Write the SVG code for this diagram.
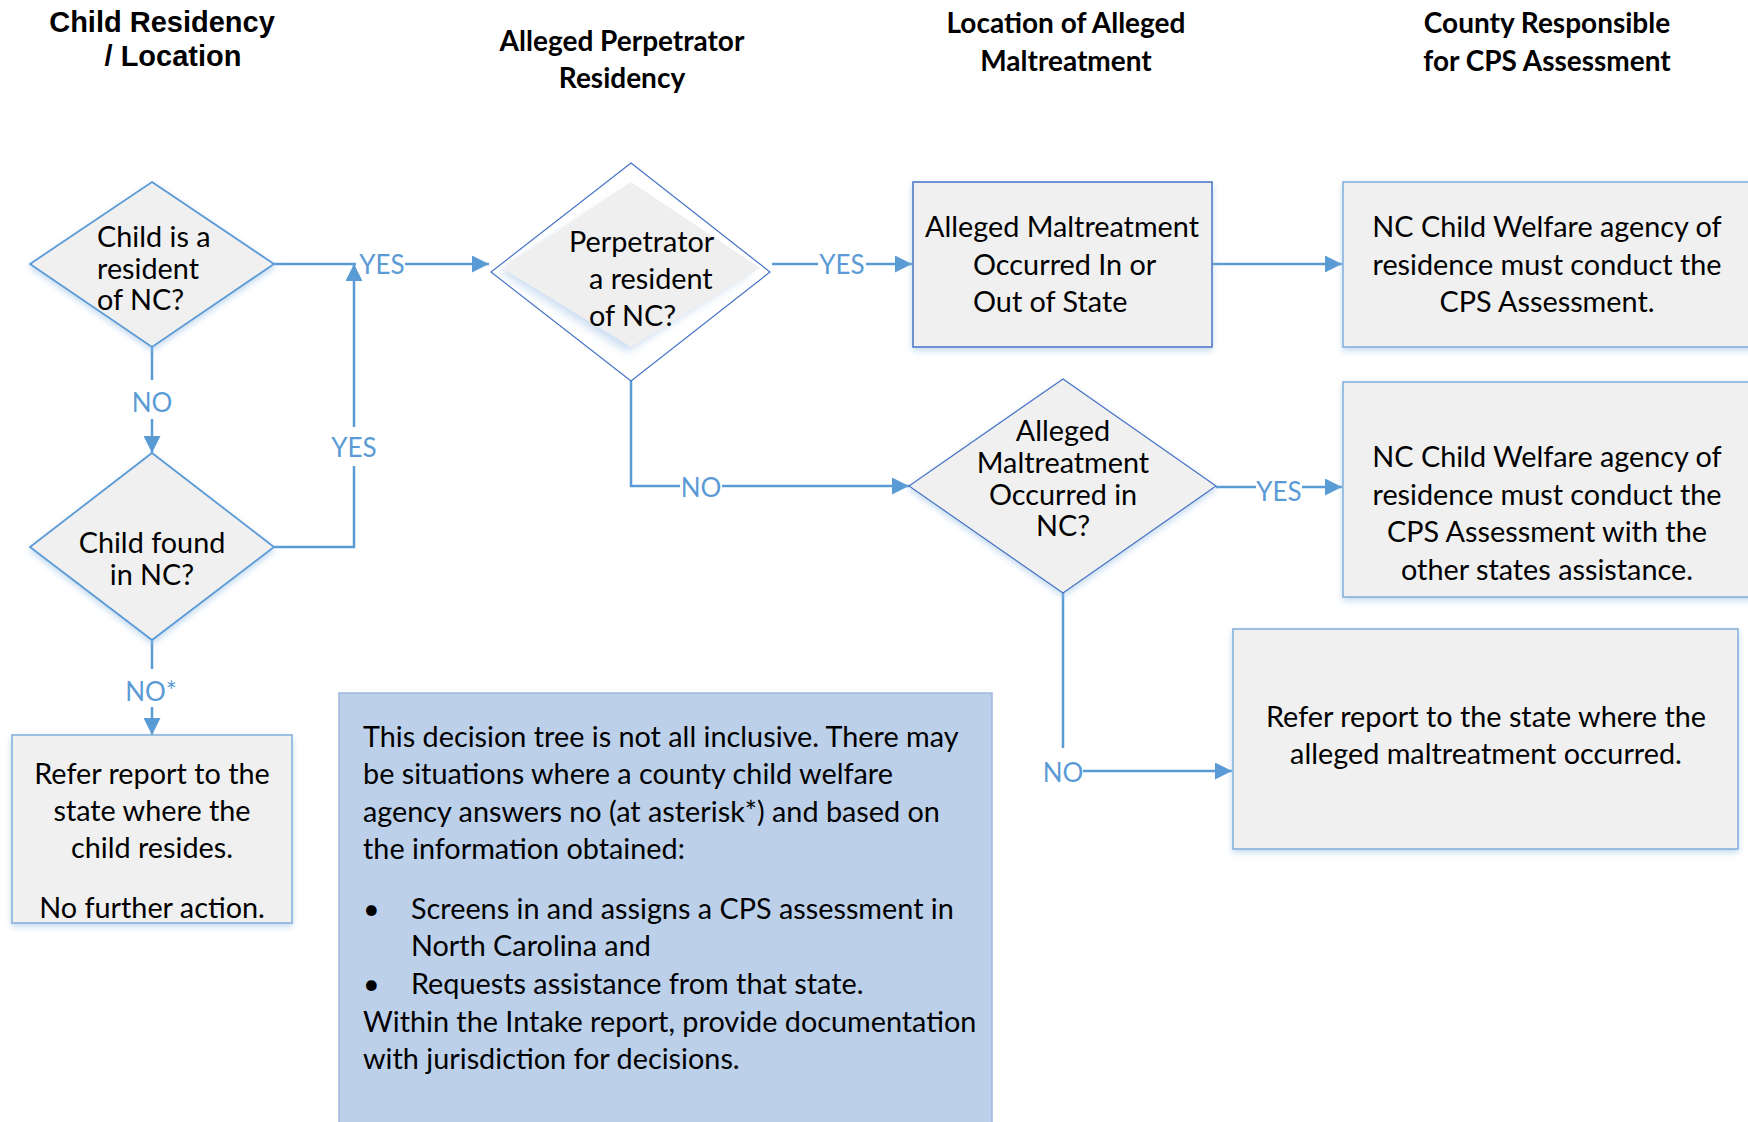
<svg xmlns="http://www.w3.org/2000/svg" width="1748" height="1122" viewBox="0 0 1748 1122">
<defs>
<style>
.hdr{font-family:"Lato","Liberation Sans",sans-serif;font-weight:bold;font-size:28px;fill:#000;text-anchor:middle}
.hdr1{font-family:"Liberation Sans","Arial",sans-serif;font-weight:bold;font-size:29px;fill:#000;text-anchor:middle}
.t{font-family:"Lato","Liberation Sans",sans-serif;font-size:28.8px;fill:#000}
.c{text-anchor:middle}
.lbl{font-family:"Lato","Liberation Sans",sans-serif;font-size:26px;fill:#5B9BD5;text-anchor:middle}
.ln{fill:none;stroke:#5B9BD5;stroke-width:2.5}
.box{fill:#F0F0F0;stroke:#7FAEDC;stroke-width:1.5}
.dia{fill:#F0F0F0;stroke:#5B9BD5;stroke-width:1.8}
.dia2{fill:#F0F0F0;stroke:#4472C4;stroke-width:1.2}
</style>
<marker id="arr" viewBox="0 0 10 10" refX="10" refY="5" markerWidth="18" markerHeight="17" markerUnits="userSpaceOnUse" orient="auto">
<path d="M0,0 L10,5 L0,10 z" fill="#5B9BD5"/>
</marker>
<filter id="sh" x="-10%" y="-10%" width="120%" height="130%">
<feDropShadow dx="0" dy="3" stdDeviation="3" flood-color="#9DC3E6" flood-opacity="0.6"/>
</filter>
<filter id="blur" x="-20%" y="-20%" width="140%" height="140%">
<feGaussianBlur stdDeviation="4"/>
</filter>
</defs>
<rect width="1748" height="1122" fill="#FFFFFF"/>

<g id="headers">
<text class="hdr1" x="162" y="32">Child Residency</text>
<text class="hdr1" x="173" y="66">/ Location</text>
<text class="hdr" x="622" y="51">Alleged Perpetrator</text>
<text class="hdr" x="622" y="88">Residency</text>
<text class="hdr" x="1066" y="33">Location of Alleged</text>
<text class="hdr" x="1066" y="71">Maltreatment</text>
<text class="hdr" x="1547" y="33">County Responsible</text>
<text class="hdr" x="1547" y="71">for CPS Assessment</text>
</g>

<g id="connectors">
<path class="ln" d="M274,264 H356"/>
<path class="ln" d="M405,264 H489" marker-end="url(#arr)"/>
<path class="ln" d="M274,547 H354 V466"/>
<path class="ln" d="M354,427 V264" marker-end="url(#arr)"/>
<path class="ln" d="M152,347 V380"/>
<path class="ln" d="M152,419 V453" marker-end="url(#arr)"/>
<path class="ln" d="M152,640 V669"/>
<path class="ln" d="M152,707 V735" marker-end="url(#arr)"/>
<path class="ln" d="M772,264 H818"/>
<path class="ln" d="M866,264 H912" marker-end="url(#arr)"/>
<path class="ln" d="M1212,264 H1342" marker-end="url(#arr)"/>
<path class="ln" d="M631,347 V486 H680"/>
<path class="ln" d="M722,486 H909" marker-end="url(#arr)"/>
<path class="ln" d="M1216,487 H1256"/>
<path class="ln" d="M1302,487 H1342" marker-end="url(#arr)"/>
<path class="ln" d="M1063,593 V748"/>
<path class="ln" d="M1083,771 H1232" marker-end="url(#arr)"/>
<text class="lbl" x="382" y="274">YES</text>
<text class="lbl" x="354" y="457">YES</text>
<text class="lbl" x="152" y="412">NO</text>
<text class="lbl" x="151" y="701">NO*</text>
<text class="lbl" x="842" y="274">YES</text>
<text class="lbl" x="701" y="497">NO</text>
<text class="lbl" x="1279" y="501">YES</text>
<text class="lbl" x="1063" y="782">NO</text>
</g>

<g id="child-resident">
<polygon class="dia" filter="url(#sh)" points="152,182 274,264 152,347 30,264"/>
<text class="t" x="97" y="247">Child is a</text>
<text class="t" x="97" y="279">resident</text>
<text class="t" x="97" y="310">of NC?</text>
</g>

<g id="child-found">
<polygon class="dia" filter="url(#sh)" points="152,453 274,547 152,640 30,547"/>
<text class="t c" x="152" y="553">Child found</text>
<text class="t c" x="152" y="585">in NC?</text>
</g>

<g id="refer-child">
<rect class="box" filter="url(#sh)" x="12" y="735" width="280" height="188"/>
<text class="t c" x="152" y="784">Refer report to the</text>
<text class="t c" x="152" y="821">state where the</text>
<text class="t c" x="152" y="858">child resides.</text>
<text class="t c" x="152" y="918">No further action.</text>
</g>

<g id="perpetrator">
<polygon points="631,163 770,272 631,381 491,272" fill="#FFFFFF" stroke="#4472C4" stroke-width="1.2"/>
<polygon points="627,190 752,272 627,352 500,272" fill="#B8D0EC" opacity="0.7" filter="url(#blur)"/>
<polygon points="631,182 760,268 631,347 502,268" fill="#EFEFEF"/>
<text class="t" x="569" y="252">Perpetrator</text>
<text class="t" x="589" y="289">a resident</text>
<text class="t" x="589" y="326">of NC?</text>
</g>

<g id="in-out-state">
<rect x="913" y="182" width="299" height="165" fill="#F0F0F0" stroke="#4472C4" stroke-width="1.5" filter="url(#sh)"/>
<text class="t c" x="1062" y="237">Alleged Maltreatment</text>
<text class="t" x="973" y="275">Occurred In or</text>
<text class="t" x="973" y="312">Out of State</text>
</g>

<g id="nc-agency">
<rect class="box" filter="url(#sh)" x="1343" y="182" width="420" height="165"/>
<text class="t c" x="1547" y="237">NC Child Welfare agency of</text>
<text class="t c" x="1547" y="275">residence must conduct the</text>
<text class="t c" x="1547" y="312">CPS Assessment.</text>
</g>

<g id="occurred-nc">
<polygon class="dia2" filter="url(#sh)" points="1063,379 1216,486 1063,593 909,486"/>
<text class="t c" x="1063" y="441">Alleged</text>
<text class="t c" x="1063" y="473">Maltreatment</text>
<text class="t c" x="1063" y="505">Occurred in</text>
<text class="t c" x="1063" y="536">NC?</text>
</g>

<g id="nc-agency-assist">
<rect class="box" filter="url(#sh)" x="1343" y="382" width="420" height="215"/>
<text class="t c" x="1547" y="467">NC Child Welfare agency of</text>
<text class="t c" x="1547" y="505">residence must conduct the</text>
<text class="t c" x="1547" y="542">CPS Assessment with the</text>
<text class="t c" x="1547" y="580">other states assistance.</text>
</g>

<g id="refer-state">
<rect class="box" filter="url(#sh)" x="1233" y="629" width="505" height="220"/>
<text class="t c" x="1486" y="727">Refer report to the state where the</text>
<text class="t c" x="1486" y="764">alleged maltreatment occurred.</text>
</g>

<g id="note">
<rect x="339" y="693" width="653" height="440" fill="#BCD0EA" stroke="#9DB8E0" stroke-width="1.5"/>
<text class="t" x="363" y="747">This decision tree is not all inclusive. There may</text>
<text class="t" x="363" y="784">be situations where a county child welfare</text>
<text class="t" x="363" y="822">agency answers no (at asterisk*) and based on</text>
<text class="t" x="363" y="859">the information obtained:</text>
<text class="t" x="363" y="919">•</text>
<text class="t" x="411" y="919">Screens in and assigns a CPS assessment  in</text>
<text class="t" x="411" y="956">North Carolina and</text>
<text class="t" x="363" y="994">•</text>
<text class="t" x="411" y="994">Requests assistance from that state.</text>
<text class="t" x="363" y="1032">Within the Intake report, provide documentation</text>
<text class="t" x="363" y="1069">with jurisdiction for decisions.</text>
</g>
</svg>
